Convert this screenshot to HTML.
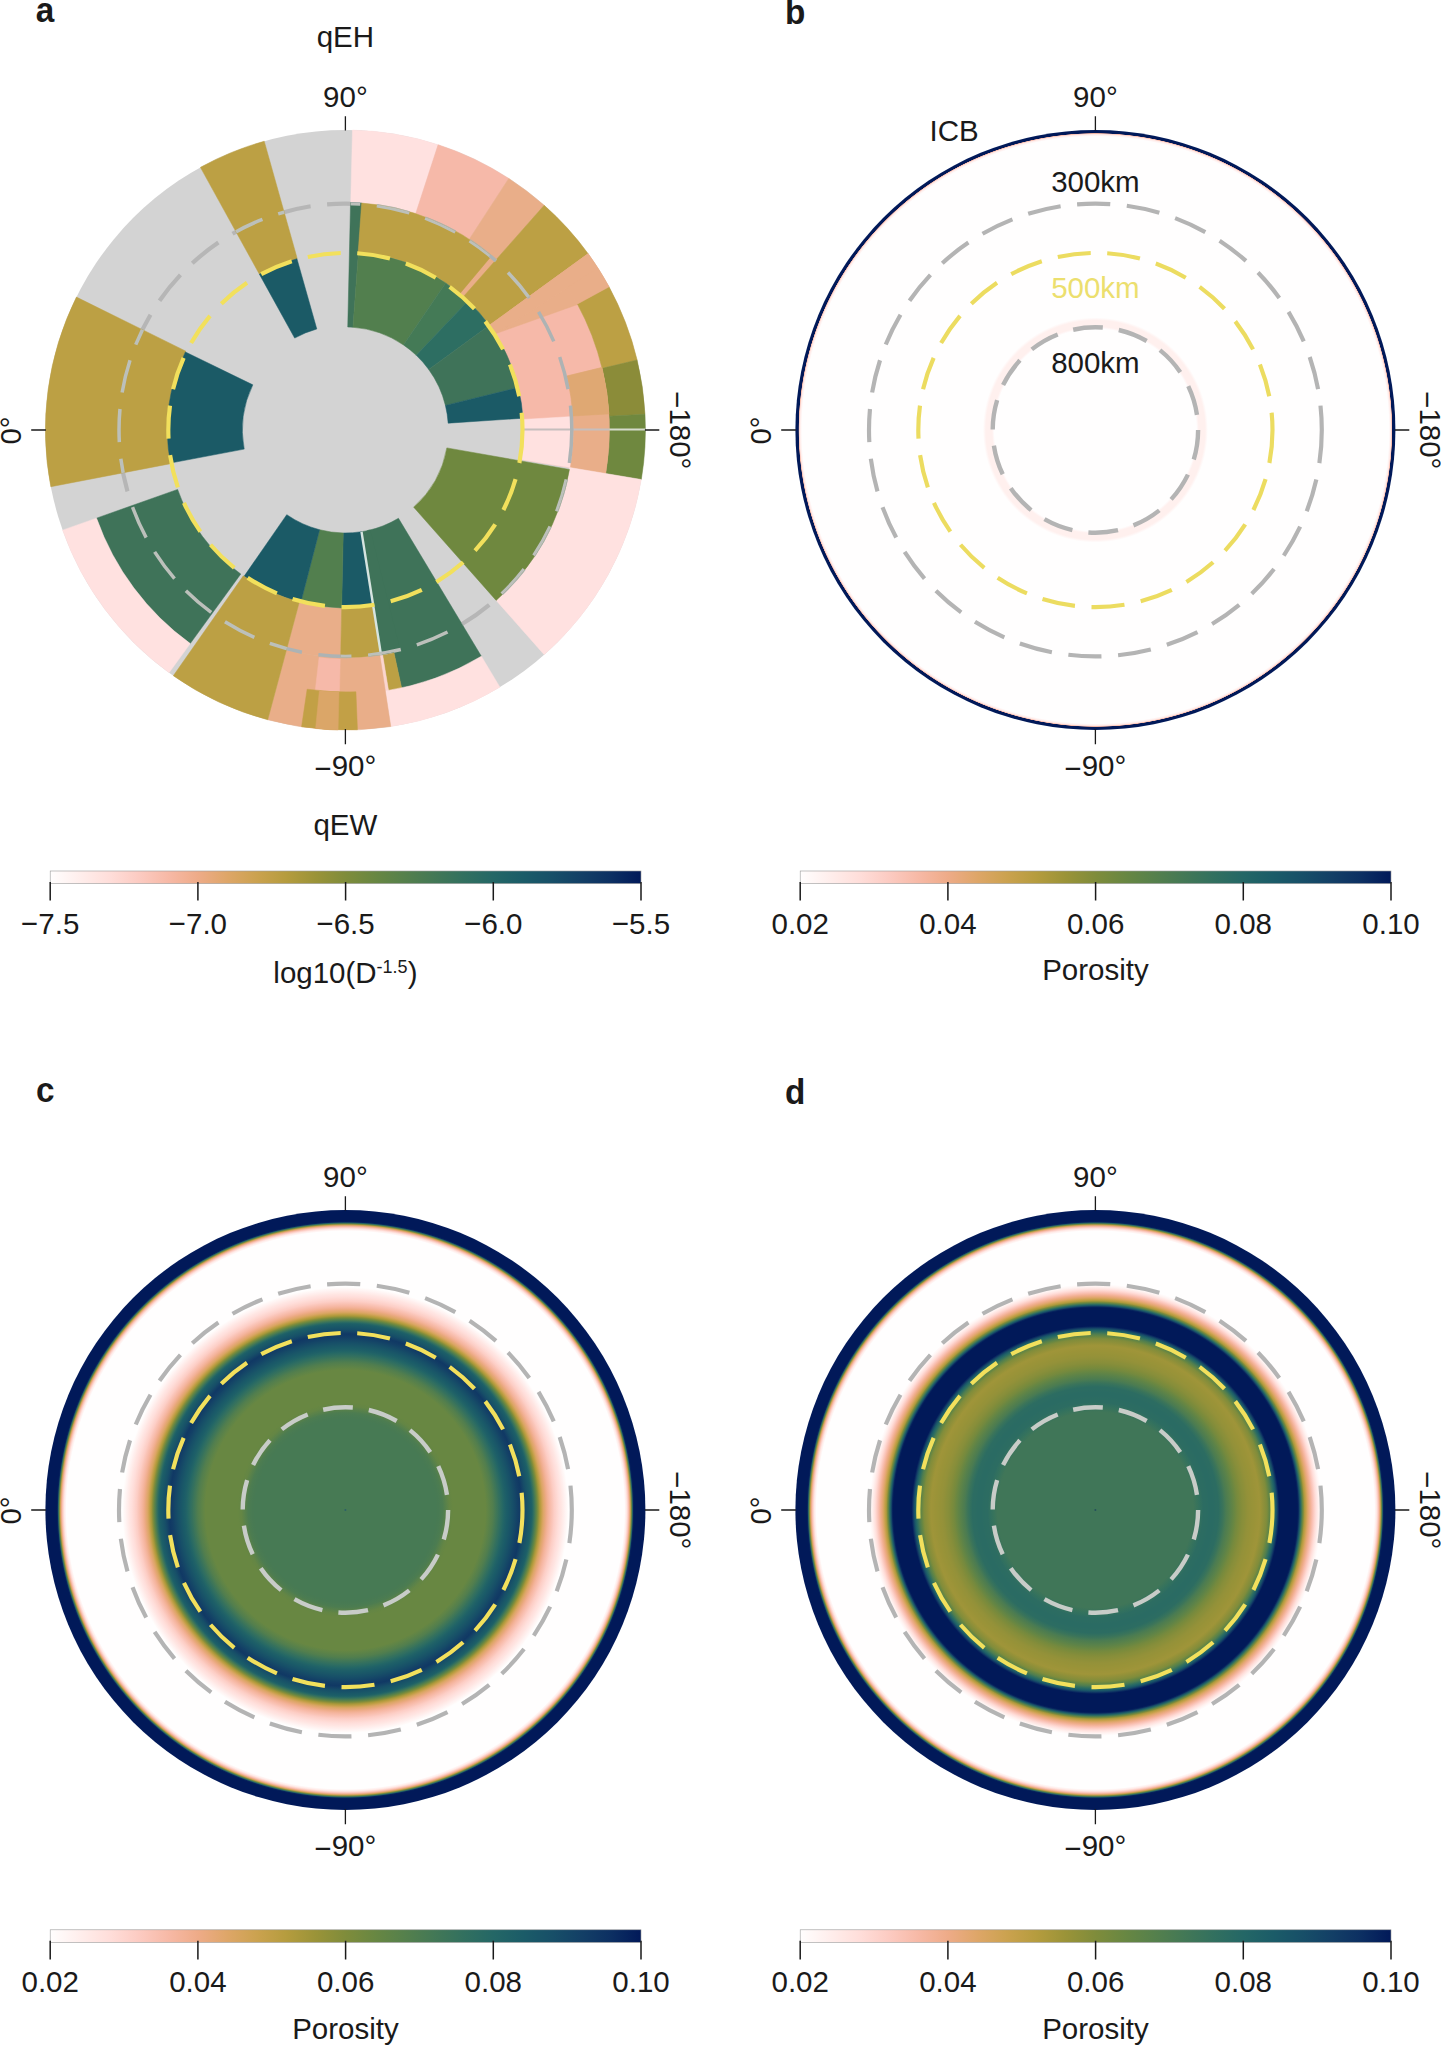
<!DOCTYPE html><html><head><meta charset="utf-8"><title>Figure</title><style>html,body{margin:0;padding:0;background:#fff}svg{display:block}</style></head><body>
<svg width="1441" height="2046" viewBox="0 0 1441 2046" font-family="Liberation Sans, Arial, Helvetica, sans-serif">
<defs>
<linearGradient id="cb" x1="0" x2="1" y1="0" y2="0"><stop offset="0" stop-color="#fffefe"/><stop offset="0.05" stop-color="#ffeeec"/><stop offset="0.1" stop-color="#ffdeda"/><stop offset="0.15" stop-color="#fccbc2"/><stop offset="0.2" stop-color="#f7b9a6"/><stop offset="0.25" stop-color="#eeab88"/><stop offset="0.3" stop-color="#dea668"/><stop offset="0.35" stop-color="#cba24f"/><stop offset="0.4" stop-color="#b59c3e"/><stop offset="0.45" stop-color="#9a9338"/><stop offset="0.5" stop-color="#7f8c3b"/><stop offset="0.55" stop-color="#688742"/><stop offset="0.6" stop-color="#55804c"/><stop offset="0.65" stop-color="#437856"/><stop offset="0.7" stop-color="#32705f"/><stop offset="0.75" stop-color="#246766"/><stop offset="0.8" stop-color="#1b5c68"/><stop offset="0.85" stop-color="#174f68"/><stop offset="0.9" stop-color="#133f66"/><stop offset="0.95" stop-color="#0c2f62"/><stop offset="1" stop-color="#011959"/></linearGradient>
<radialGradient id="gb" gradientUnits="userSpaceOnUse" cx="0" cy="0" r="300"><stop offset="0.0000" stop-color="#fffefe"/><stop offset="0.3367" stop-color="#fffefe"/><stop offset="0.3383" stop-color="#fffbfb"/><stop offset="0.3400" stop-color="#fff8f8"/><stop offset="0.3417" stop-color="#fff5f4"/><stop offset="0.3433" stop-color="#fff2f1"/><stop offset="0.3450" stop-color="#fff0ee"/><stop offset="0.3650" stop-color="#fff0ee"/><stop offset="0.3667" stop-color="#fff2f0"/><stop offset="0.3683" stop-color="#fff4f3"/><stop offset="0.3700" stop-color="#fff7f6"/><stop offset="0.3717" stop-color="#fff9f9"/><stop offset="0.3733" stop-color="#fffcfb"/><stop offset="0.3750" stop-color="#fffefe"/><stop offset="0.9783" stop-color="#fffefe"/><stop offset="0.9800" stop-color="#fff9f9"/><stop offset="0.9817" stop-color="#fff4f3"/><stop offset="0.9833" stop-color="#fff0ee"/><stop offset="0.9850" stop-color="#ffebe8"/><stop offset="0.9867" stop-color="#fdd3cc"/><stop offset="0.9883" stop-color="#f7b9a6"/><stop offset="0.9900" stop-color="#011959"/><stop offset="1.0000" stop-color="#011959"/></radialGradient>
<radialGradient id="gc" gradientUnits="userSpaceOnUse" cx="0" cy="0" r="300"><stop offset="0.0000" stop-color="#477a54"/><stop offset="0.3033" stop-color="#477a54"/><stop offset="0.3067" stop-color="#487a53"/><stop offset="0.3100" stop-color="#487a53"/><stop offset="0.3133" stop-color="#497b53"/><stop offset="0.3167" stop-color="#4a7b52"/><stop offset="0.3200" stop-color="#4b7c51"/><stop offset="0.3233" stop-color="#4c7c51"/><stop offset="0.3267" stop-color="#4f7d4f"/><stop offset="0.3300" stop-color="#537f4d"/><stop offset="0.3333" stop-color="#56804b"/><stop offset="0.3367" stop-color="#5a824a"/><stop offset="0.3400" stop-color="#5d8348"/><stop offset="0.3433" stop-color="#618446"/><stop offset="0.3467" stop-color="#648644"/><stop offset="0.3500" stop-color="#658644"/><stop offset="0.3533" stop-color="#668643"/><stop offset="0.3567" stop-color="#678742"/><stop offset="0.3600" stop-color="#688742"/><stop offset="0.4667" stop-color="#688742"/><stop offset="0.4700" stop-color="#658644"/><stop offset="0.4733" stop-color="#628545"/><stop offset="0.4767" stop-color="#5f8447"/><stop offset="0.4800" stop-color="#5c8348"/><stop offset="0.4833" stop-color="#59814a"/><stop offset="0.4867" stop-color="#56804c"/><stop offset="0.4900" stop-color="#537f4d"/><stop offset="0.4933" stop-color="#4f7d4f"/><stop offset="0.4967" stop-color="#4a7b52"/><stop offset="0.5000" stop-color="#457955"/><stop offset="0.5033" stop-color="#407757"/><stop offset="0.5067" stop-color="#3c755a"/><stop offset="0.5100" stop-color="#37725c"/><stop offset="0.5133" stop-color="#33705f"/><stop offset="0.5167" stop-color="#2f6e61"/><stop offset="0.5200" stop-color="#2b6b63"/><stop offset="0.5233" stop-color="#276964"/><stop offset="0.5267" stop-color="#236666"/><stop offset="0.5300" stop-color="#216367"/><stop offset="0.5333" stop-color="#1f6067"/><stop offset="0.5367" stop-color="#1d5e68"/><stop offset="0.5400" stop-color="#1b5c68"/><stop offset="0.5433" stop-color="#1a5a68"/><stop offset="0.5467" stop-color="#1a5768"/><stop offset="0.5500" stop-color="#195568"/><stop offset="0.5533" stop-color="#185268"/><stop offset="0.5567" stop-color="#175068"/><stop offset="0.5600" stop-color="#164d68"/><stop offset="0.5633" stop-color="#164a67"/><stop offset="0.5667" stop-color="#154767"/><stop offset="0.5700" stop-color="#144467"/><stop offset="0.5733" stop-color="#134166"/><stop offset="0.5767" stop-color="#133e66"/><stop offset="0.5800" stop-color="#123c65"/><stop offset="0.5833" stop-color="#113a65"/><stop offset="0.5867" stop-color="#103964"/><stop offset="0.5900" stop-color="#123d66"/><stop offset="0.5933" stop-color="#144266"/><stop offset="0.5967" stop-color="#154767"/><stop offset="0.6000" stop-color="#164c68"/><stop offset="0.6033" stop-color="#175068"/><stop offset="0.6067" stop-color="#185368"/><stop offset="0.6100" stop-color="#195668"/><stop offset="0.6133" stop-color="#1a5968"/><stop offset="0.6167" stop-color="#1b5c68"/><stop offset="0.6200" stop-color="#1d5f67"/><stop offset="0.6233" stop-color="#236566"/><stop offset="0.6267" stop-color="#2f6e61"/><stop offset="0.6300" stop-color="#3e7559"/><stop offset="0.6333" stop-color="#4e7d50"/><stop offset="0.6367" stop-color="#5f8446"/><stop offset="0.6400" stop-color="#748a3e"/><stop offset="0.6433" stop-color="#8b8f3a"/><stop offset="0.6467" stop-color="#a5973a"/><stop offset="0.6500" stop-color="#b69c3f"/><stop offset="0.6533" stop-color="#c4a04a"/><stop offset="0.6567" stop-color="#d2a358"/><stop offset="0.6600" stop-color="#dca666"/><stop offset="0.6633" stop-color="#e2a771"/><stop offset="0.6667" stop-color="#e8a97c"/><stop offset="0.6700" stop-color="#eeab88"/><stop offset="0.6733" stop-color="#f1b092"/><stop offset="0.6767" stop-color="#f4b49c"/><stop offset="0.6800" stop-color="#f6b8a4"/><stop offset="0.6833" stop-color="#f8bcab"/><stop offset="0.6867" stop-color="#f9c1b2"/><stop offset="0.6900" stop-color="#fac5b9"/><stop offset="0.6933" stop-color="#fccac0"/><stop offset="0.6967" stop-color="#fdcfc7"/><stop offset="0.7000" stop-color="#fdd2cb"/><stop offset="0.7033" stop-color="#fed6d0"/><stop offset="0.7067" stop-color="#fedad4"/><stop offset="0.7100" stop-color="#ffddd9"/><stop offset="0.7133" stop-color="#ffe0dd"/><stop offset="0.7167" stop-color="#ffe3e0"/><stop offset="0.7200" stop-color="#ffe6e3"/><stop offset="0.7233" stop-color="#ffeae7"/><stop offset="0.7267" stop-color="#ffedeb"/><stop offset="0.7300" stop-color="#fff0ef"/><stop offset="0.7333" stop-color="#fff4f3"/><stop offset="0.7367" stop-color="#fff7f6"/><stop offset="0.7400" stop-color="#fffbfa"/><stop offset="0.7433" stop-color="#fffefe"/><stop offset="0.9300" stop-color="#fffefe"/><stop offset="0.9333" stop-color="#fff4f3"/><stop offset="0.9367" stop-color="#ffebe8"/><stop offset="0.9400" stop-color="#fed8d2"/><stop offset="0.9433" stop-color="#fac3b6"/><stop offset="0.9467" stop-color="#efac8a"/><stop offset="0.9500" stop-color="#cea353"/><stop offset="0.9533" stop-color="#7b8b3c"/><stop offset="0.9567" stop-color="#286964"/><stop offset="0.9600" stop-color="#06225d"/><stop offset="0.9633" stop-color="#011959"/><stop offset="1.0000" stop-color="#011959"/></radialGradient>
<radialGradient id="gd" gradientUnits="userSpaceOnUse" cx="0" cy="0" r="300"><stop offset="0.0000" stop-color="#407658"/><stop offset="0.3267" stop-color="#407658"/><stop offset="0.3300" stop-color="#3e7559"/><stop offset="0.3333" stop-color="#3c745a"/><stop offset="0.3367" stop-color="#39745b"/><stop offset="0.3400" stop-color="#37735c"/><stop offset="0.3433" stop-color="#35725d"/><stop offset="0.3467" stop-color="#33715e"/><stop offset="0.3500" stop-color="#31705f"/><stop offset="0.3533" stop-color="#306f60"/><stop offset="0.3567" stop-color="#2e6d61"/><stop offset="0.3600" stop-color="#2c6c62"/><stop offset="0.3667" stop-color="#2c6c62"/><stop offset="0.3700" stop-color="#2b6c62"/><stop offset="0.3733" stop-color="#2b6c62"/><stop offset="0.3767" stop-color="#2b6b63"/><stop offset="0.3800" stop-color="#2a6b63"/><stop offset="0.3933" stop-color="#2a6b63"/><stop offset="0.3967" stop-color="#2b6b63"/><stop offset="0.4000" stop-color="#2b6c62"/><stop offset="0.4033" stop-color="#2c6c62"/><stop offset="0.4100" stop-color="#2c6c62"/><stop offset="0.4133" stop-color="#2f6e60"/><stop offset="0.4167" stop-color="#32705f"/><stop offset="0.4200" stop-color="#35725d"/><stop offset="0.4233" stop-color="#39735b"/><stop offset="0.4267" stop-color="#3d7559"/><stop offset="0.4300" stop-color="#427856"/><stop offset="0.4333" stop-color="#477a54"/><stop offset="0.4367" stop-color="#4c7c51"/><stop offset="0.4400" stop-color="#4f7d4f"/><stop offset="0.4433" stop-color="#527f4d"/><stop offset="0.4467" stop-color="#56804c"/><stop offset="0.4500" stop-color="#59824a"/><stop offset="0.4533" stop-color="#5d8348"/><stop offset="0.4567" stop-color="#618446"/><stop offset="0.4600" stop-color="#658644"/><stop offset="0.4633" stop-color="#698742"/><stop offset="0.4667" stop-color="#6e8840"/><stop offset="0.4700" stop-color="#73893f"/><stop offset="0.4733" stop-color="#778a3d"/><stop offset="0.4767" stop-color="#7a8b3c"/><stop offset="0.4800" stop-color="#7d8c3b"/><stop offset="0.4833" stop-color="#818c3b"/><stop offset="0.4867" stop-color="#848d3a"/><stop offset="0.4900" stop-color="#878e3a"/><stop offset="0.4933" stop-color="#898f3a"/><stop offset="0.4967" stop-color="#8b8f3a"/><stop offset="0.5000" stop-color="#8d9039"/><stop offset="0.5033" stop-color="#909039"/><stop offset="0.5067" stop-color="#929139"/><stop offset="0.5100" stop-color="#949139"/><stop offset="0.5133" stop-color="#959239"/><stop offset="0.5167" stop-color="#969238"/><stop offset="0.5200" stop-color="#979238"/><stop offset="0.5233" stop-color="#989338"/><stop offset="0.5267" stop-color="#999338"/><stop offset="0.5300" stop-color="#9a9338"/><stop offset="0.5333" stop-color="#9b9338"/><stop offset="0.5367" stop-color="#9c9438"/><stop offset="0.5400" stop-color="#9d9439"/><stop offset="0.5433" stop-color="#9e9439"/><stop offset="0.5467" stop-color="#9f9539"/><stop offset="0.5500" stop-color="#9d9439"/><stop offset="0.5533" stop-color="#989338"/><stop offset="0.5567" stop-color="#949139"/><stop offset="0.5600" stop-color="#8f9039"/><stop offset="0.5633" stop-color="#8b8f3a"/><stop offset="0.5667" stop-color="#868e3a"/><stop offset="0.5700" stop-color="#828d3b"/><stop offset="0.5733" stop-color="#7a8b3d"/><stop offset="0.5767" stop-color="#6d8840"/><stop offset="0.5800" stop-color="#628545"/><stop offset="0.5833" stop-color="#58814b"/><stop offset="0.5867" stop-color="#4e7d50"/><stop offset="0.5900" stop-color="#3f7658"/><stop offset="0.5933" stop-color="#31705f"/><stop offset="0.5967" stop-color="#266865"/><stop offset="0.6000" stop-color="#1e6067"/><stop offset="0.6033" stop-color="#185268"/><stop offset="0.6067" stop-color="#133f66"/><stop offset="0.6100" stop-color="#092960"/><stop offset="0.6133" stop-color="#011959"/><stop offset="0.6733" stop-color="#011959"/><stop offset="0.6767" stop-color="#07255e"/><stop offset="0.6800" stop-color="#154667"/><stop offset="0.6833" stop-color="#1f6167"/><stop offset="0.6867" stop-color="#3b745a"/><stop offset="0.6900" stop-color="#5e8347"/><stop offset="0.6933" stop-color="#808c3b"/><stop offset="0.6967" stop-color="#aa983c"/><stop offset="0.7000" stop-color="#bc9e44"/><stop offset="0.7033" stop-color="#cca250"/><stop offset="0.7067" stop-color="#daa563"/><stop offset="0.7100" stop-color="#e4a873"/><stop offset="0.7133" stop-color="#ecaa83"/><stop offset="0.7167" stop-color="#f1b092"/><stop offset="0.7200" stop-color="#f6b7a1"/><stop offset="0.7233" stop-color="#f9bfb0"/><stop offset="0.7267" stop-color="#fbc8be"/><stop offset="0.7300" stop-color="#fdd2ca"/><stop offset="0.7333" stop-color="#ffdbd6"/><stop offset="0.7367" stop-color="#ffe3e0"/><stop offset="0.7400" stop-color="#ffeae7"/><stop offset="0.7433" stop-color="#fff1ef"/><stop offset="0.7467" stop-color="#fff6f5"/><stop offset="0.7500" stop-color="#fffafa"/><stop offset="0.7533" stop-color="#fffefe"/><stop offset="0.9300" stop-color="#fffefe"/><stop offset="0.9333" stop-color="#fff4f3"/><stop offset="0.9367" stop-color="#ffebe8"/><stop offset="0.9400" stop-color="#fed8d2"/><stop offset="0.9433" stop-color="#fac3b6"/><stop offset="0.9467" stop-color="#efac8a"/><stop offset="0.9500" stop-color="#cea353"/><stop offset="0.9533" stop-color="#7b8b3c"/><stop offset="0.9567" stop-color="#286964"/><stop offset="0.9600" stop-color="#06225d"/><stop offset="0.9633" stop-color="#011959"/><stop offset="1.0000" stop-color="#011959"/></radialGradient>
</defs>
<rect width="1441" height="2046" fill="#fff"/>
<g transform="translate(345.4 430)">
<circle r="300" fill="#d3d3d3"/>
<circle r="226.4" fill="none" stroke="#b6b6b6" stroke-width="4.17" stroke-dasharray="33.27 16.64"/>
<path d="M7.07 -299.92A300 300 0 0 1 92.71 -285.32L70.30 -216.37A227.5 227.5 0 0 0 5.36 -227.44Z" fill="#ffe1e0" stroke="#ffe1e0" stroke-width="0.5"/>
<path d="M92.71 -285.32A300 300 0 0 1 163.39 -251.60L123.91 -190.80A227.5 227.5 0 0 0 70.30 -216.37Z" fill="#f6b9a9" stroke="#f6b9a9" stroke-width="0.5"/>
<path d="M163.39 -251.60A300 300 0 0 1 198.79 -224.69L150.75 -170.39A227.5 227.5 0 0 0 123.91 -190.80Z" fill="#e9ae89" stroke="#e9ae89" stroke-width="0.5"/>
<path d="M145.01 -175.29A227.5 227.5 0 0 1 151.04 -170.12L118.18 -133.11A178 178 0 0 0 113.46 -137.15Z" fill="#e9ae89" stroke="#e9ae89" stroke-width="0.5"/>
<path d="M198.79 -224.69A300 300 0 0 1 242.71 -176.34L144.01 -104.63A178 178 0 0 0 117.95 -133.31Z" fill="#bca044" stroke="#bca044" stroke-width="0.5"/>
<path d="M242.71 -176.34A300 300 0 0 1 263.65 -143.15L156.43 -84.93A178 178 0 0 0 144.01 -104.63Z" fill="#e9ae89" stroke="#e9ae89" stroke-width="0.5"/>
<path d="M222.16 -142.62A264 264 0 0 1 260.38 43.57L175.56 29.38A178 178 0 0 0 149.79 -96.16Z" fill="#f6b9a9" stroke="#f6b9a9" stroke-width="0.5"/>
<path d="M149.79 -96.16L222.16 -142.62A264 264 0 0 1 232.23 -125.56Z" fill="#e9ae89" stroke="#e9ae89" stroke-width="0.5"/>
<path d="M263.65 -143.15A300 300 0 0 1 291.71 -70.03L256.71 -61.63A264 264 0 0 0 232.01 -125.97Z" fill="#bca044" stroke="#bca044" stroke-width="0.5"/>
<path d="M291.71 -70.03A300 300 0 0 1 299.59 -15.70L263.64 -13.82A264 264 0 0 0 256.71 -61.63Z" fill="#8b8c39" stroke="#8b8c39" stroke-width="0.5"/>
<path d="M299.59 -15.70A300 300 0 0 1 295.89 49.51L260.38 43.57A264 264 0 0 0 263.64 -13.82Z" fill="#6f883f" stroke="#6f883f" stroke-width="0.5"/>
<path d="M242.71 -176.34A300 300 0 0 1 252.45 -162.07L149.79 -96.16A178 178 0 0 0 144.01 -104.63Z" fill="#e9ae89" stroke="#e9ae89" stroke-width="0.5"/>
<path d="M252.45 -162.07A300 300 0 0 1 263.65 -143.15L232.01 -125.97A264 264 0 0 0 222.16 -142.62Z" fill="#e9ae89" stroke="#e9ae89" stroke-width="0.5"/>
<path d="M256.49 -62.53A264 264 0 0 1 260.38 43.57L224.87 37.63A228 228 0 0 0 221.51 -54.00Z" fill="#e9ae89" stroke="#e9ae89" stroke-width="0.5"/>
<path d="M256.49 -62.53A264 264 0 0 1 263.51 -16.12L227.57 -13.92A228 228 0 0 0 221.51 -54.00Z" fill="#dfa873" stroke="#dfa873" stroke-width="0.5"/>
<path d="M227.10 -13.49A227.5 227.5 0 0 1 224.38 37.55L175.56 29.38A178 178 0 0 0 177.69 -10.56Z" fill="#ffe1e0" stroke="#ffe1e0" stroke-width="0.5"/>
<path d="M5.16 -227.44A227.5 227.5 0 0 1 16.66 -226.89L7.54 -102.72A103 103 0 0 0 2.34 -102.97Z" fill="#3f7359" stroke="#3f7359" stroke-width="0.5"/>
<path d="M16.27 -226.92A227.5 227.5 0 0 1 146.23 -174.28L114.42 -136.36A178 178 0 0 0 12.73 -177.54Z" fill="#bca044" stroke="#bca044" stroke-width="0.5"/>
<path d="M13.04 -177.52A178 178 0 0 1 100.31 -147.05L58.04 -85.09A103 103 0 0 0 7.54 -102.72Z" fill="#527f4e" stroke="#527f4e" stroke-width="0.5"/>
<path d="M100.31 -147.05A178 178 0 0 1 122.53 -129.12L70.90 -74.71A103 103 0 0 0 58.04 -85.09Z" fill="#447a56" stroke="#447a56" stroke-width="0.5"/>
<path d="M122.53 -129.12A178 178 0 0 1 144.01 -104.63L83.33 -60.54A103 103 0 0 0 70.90 -74.71Z" fill="#2d6e62" stroke="#2d6e62" stroke-width="0.5"/>
<path d="M144.01 -104.63A178 178 0 0 1 172.86 -42.46L100.03 -24.57A103 103 0 0 0 83.33 -60.54Z" fill="#3f7359" stroke="#3f7359" stroke-width="0.5"/>
<path d="M172.86 -42.46A178 178 0 0 1 177.61 -11.80L102.77 -6.83A103 103 0 0 0 100.03 -24.57Z" fill="#1b5a66" stroke="#1b5a66" stroke-width="0.5"/>
<path d="M295.89 49.51A300 300 0 0 1 198.79 224.69L150.75 170.39A227.5 227.5 0 0 0 224.38 37.55Z" fill="#ffe1e0" stroke="#ffe1e0" stroke-width="0.5"/>
<path d="M224.04 39.50A227.5 227.5 0 0 1 150.75 170.39L68.25 77.14A103 103 0 0 0 101.44 17.89Z" fill="#6f883f" stroke="#6f883f" stroke-width="0.5"/>
<path d="M135.97 226.29A264 264 0 0 1 56.24 257.94L21.94 100.64A103 103 0 0 0 53.05 88.29Z" fill="#3f7359" stroke="#3f7359" stroke-width="0.5"/>
<path d="M55.04 220.74A227.5 227.5 0 0 1 35.59 224.70L16.11 101.73A103 103 0 0 0 24.92 99.94Z" fill="#3f7359" stroke="#3f7359" stroke-width="0.5"/>
<path d="M56.24 257.94A264 264 0 0 1 43.12 260.46L37.24 224.94A228 228 0 0 0 48.57 222.77Z" fill="#bca044" stroke="#bca044" stroke-width="0.5"/>
<path d="M43.12 260.46A264 264 0 0 1 39.93 260.96L34.49 225.38A228 228 0 0 0 37.24 224.94Z" fill="#fbd5cf" stroke="#fbd5cf" stroke-width="0.5"/>
<path d="M154.51 257.15A300 300 0 0 1 45.38 296.55L39.93 260.96A264 264 0 0 0 135.97 226.29Z" fill="#ffe1e0" stroke="#ffe1e0" stroke-width="0.5"/>
<path d="M45.38 296.55A300 300 0 0 1 -77.65 289.78L-58.88 219.75A227.5 227.5 0 0 0 34.41 224.88Z" fill="#e9ae89" stroke="#e9ae89" stroke-width="0.5"/>
<path d="M-4.76 227.45A227.5 227.5 0 0 1 -58.88 219.75L-46.07 171.93A178 178 0 0 0 -3.73 177.96Z" fill="#e9ae89" stroke="#e9ae89" stroke-width="0.5"/>
<path d="M35.59 224.70A227.5 227.5 0 0 1 -4.76 227.45L-3.73 177.96A178 178 0 0 0 27.85 175.81Z" fill="#bca044" stroke="#bca044" stroke-width="0.5"/>
<path d="M27.85 175.81A178 178 0 0 1 -3.73 177.96L-2.16 102.98A103 103 0 0 0 16.11 101.73Z" fill="#1b5a66" stroke="#1b5a66" stroke-width="0.5"/>
<path d="M-3.73 177.96A178 178 0 0 1 -44.57 172.33L-25.79 99.72A103 103 0 0 0 -2.16 102.98Z" fill="#527f4e" stroke="#527f4e" stroke-width="0.5"/>
<path d="M-5.94 261.93A262 262 0 0 1 -30.11 260.26L-26.32 227.48A229 229 0 0 0 -5.20 228.94Z" fill="#f6b9a9" stroke="#f6b9a9" stroke-width="0.5"/>
<path d="M12.04 299.76A300 300 0 0 1 -43.82 296.78L-38.27 259.19A262 262 0 0 0 10.51 261.79Z" fill="#c2a046" stroke="#c2a046" stroke-width="0.5"/>
<path d="M-7.33 299.91A300 300 0 0 1 -29.80 298.52L-26.02 260.70A262 262 0 0 0 -6.40 261.92Z" fill="#dba668" stroke="#dba668" stroke-width="0.5"/>
<path d="M-44.57 172.33A178 178 0 0 1 -101.33 146.34L-58.64 84.68A103 103 0 0 0 -25.79 99.72Z" fill="#1b5a66" stroke="#1b5a66" stroke-width="0.5"/>
<path d="M-77.65 289.78A300 300 0 0 1 -172.07 245.75L-102.10 145.81A178 178 0 0 0 -46.07 171.93Z" fill="#bca044" stroke="#bca044" stroke-width="0.5"/>
<path d="M-155.18 213.58A264 264 0 0 1 -248.86 88.13L-167.79 59.42A178 178 0 0 0 -104.63 144.01Z" fill="#3f7359" stroke="#3f7359" stroke-width="0.5"/>
<path d="M-176.34 242.71A300 300 0 0 1 -282.79 100.14L-248.86 88.13A264 264 0 0 0 -155.18 213.58Z" fill="#ffe1e0" stroke="#ffe1e0" stroke-width="0.5"/>
<path d="M-294.59 56.73A300 300 0 0 1 -268.95 -132.92L-159.57 -78.87A178 178 0 0 0 -174.79 33.66Z" fill="#bca044" stroke="#bca044" stroke-width="0.5"/>
<path d="M-174.91 33.05A178 178 0 0 1 -159.99 -78.03L-92.58 -45.15A103 103 0 0 0 -101.21 19.12Z" fill="#1b5a66" stroke="#1b5a66" stroke-width="0.5"/>
<path d="M-144.98 -262.64A300 300 0 0 1 -81.18 -288.81L-48.17 -171.36A178 178 0 0 0 -86.02 -155.83Z" fill="#bca044" stroke="#bca044" stroke-width="0.5"/>
<path d="M-86.02 -155.83A178 178 0 0 1 -48.47 -171.27L-28.59 -101.03A105 105 0 0 0 -50.74 -91.92Z" fill="#1b5a66" stroke="#1b5a66" stroke-width="0.5"/>
<path d="M16.1 101.7L35.6 224.7" stroke="#d6e4e0" stroke-width="2.4"/>
<path d="M178.0 -0.4H264.0" stroke="#c6bebd" stroke-width="2"/>
<path d="M264.0 -0.4H300.0" stroke="#d6dccd" stroke-width="2"/>
<clipPath id="wc"><path d="M198.79 -224.69A300 300 0 0 1 242.71 -176.34L144.01 -104.63A178 178 0 0 0 117.95 -133.31ZM263.65 -143.15A300 300 0 0 1 291.71 -70.03L256.71 -61.63A264 264 0 0 0 232.01 -125.97ZM291.71 -70.03A300 300 0 0 1 299.59 -15.70L263.64 -13.82A264 264 0 0 0 256.71 -61.63ZM299.59 -15.70A300 300 0 0 1 295.89 49.51L260.38 43.57A264 264 0 0 0 263.64 -13.82ZM5.16 -227.44A227.5 227.5 0 0 1 16.66 -226.89L7.54 -102.72A103 103 0 0 0 2.34 -102.97ZM16.27 -226.92A227.5 227.5 0 0 1 146.23 -174.28L114.42 -136.36A178 178 0 0 0 12.73 -177.54ZM13.04 -177.52A178 178 0 0 1 100.31 -147.05L58.04 -85.09A103 103 0 0 0 7.54 -102.72ZM100.31 -147.05A178 178 0 0 1 122.53 -129.12L70.90 -74.71A103 103 0 0 0 58.04 -85.09ZM122.53 -129.12A178 178 0 0 1 144.01 -104.63L83.33 -60.54A103 103 0 0 0 70.90 -74.71ZM144.01 -104.63A178 178 0 0 1 172.86 -42.46L100.03 -24.57A103 103 0 0 0 83.33 -60.54ZM172.86 -42.46A178 178 0 0 1 177.61 -11.80L102.77 -6.83A103 103 0 0 0 100.03 -24.57ZM224.04 39.50A227.5 227.5 0 0 1 150.75 170.39L68.25 77.14A103 103 0 0 0 101.44 17.89ZM135.97 226.29A264 264 0 0 1 56.24 257.94L21.94 100.64A103 103 0 0 0 53.05 88.29ZM55.04 220.74A227.5 227.5 0 0 1 35.59 224.70L16.11 101.73A103 103 0 0 0 24.92 99.94ZM56.24 257.94A264 264 0 0 1 43.12 260.46L37.24 224.94A228 228 0 0 0 48.57 222.77ZM35.59 224.70A227.5 227.5 0 0 1 -4.76 227.45L-3.73 177.96A178 178 0 0 0 27.85 175.81ZM27.85 175.81A178 178 0 0 1 -3.73 177.96L-2.16 102.98A103 103 0 0 0 16.11 101.73ZM-3.73 177.96A178 178 0 0 1 -44.57 172.33L-25.79 99.72A103 103 0 0 0 -2.16 102.98ZM12.04 299.76A300 300 0 0 1 -43.82 296.78L-38.27 259.19A262 262 0 0 0 10.51 261.79ZM-7.33 299.91A300 300 0 0 1 -29.80 298.52L-26.02 260.70A262 262 0 0 0 -6.40 261.92ZM-44.57 172.33A178 178 0 0 1 -101.33 146.34L-58.64 84.68A103 103 0 0 0 -25.79 99.72ZM-77.65 289.78A300 300 0 0 1 -172.07 245.75L-102.10 145.81A178 178 0 0 0 -46.07 171.93ZM-155.18 213.58A264 264 0 0 1 -248.86 88.13L-167.79 59.42A178 178 0 0 0 -104.63 144.01ZM-294.59 56.73A300 300 0 0 1 -268.95 -132.92L-159.57 -78.87A178 178 0 0 0 -174.79 33.66ZM-174.91 33.05A178 178 0 0 1 -159.99 -78.03L-92.58 -45.15A103 103 0 0 0 -101.21 19.12ZM-144.98 -262.64A300 300 0 0 1 -81.18 -288.81L-48.17 -171.36A178 178 0 0 0 -86.02 -155.83ZM-86.02 -155.83A178 178 0 0 1 -48.47 -171.27L-28.59 -101.03A105 105 0 0 0 -50.74 -91.92Z"/></clipPath>
<g clip-path="url(#wc)"><circle r="226.4" fill="none" stroke="#bcc0bb" stroke-width="3.5" stroke-dasharray="33.27 16.64"/></g>
<clipPath id="wl"><path d="M7.07 -299.92A300 300 0 0 1 92.71 -285.32L70.30 -216.37A227.5 227.5 0 0 0 5.36 -227.44ZM92.71 -285.32A300 300 0 0 1 163.39 -251.60L123.91 -190.80A227.5 227.5 0 0 0 70.30 -216.37ZM163.39 -251.60A300 300 0 0 1 198.79 -224.69L150.75 -170.39A227.5 227.5 0 0 0 123.91 -190.80ZM145.01 -175.29A227.5 227.5 0 0 1 151.04 -170.12L118.18 -133.11A178 178 0 0 0 113.46 -137.15ZM242.71 -176.34A300 300 0 0 1 263.65 -143.15L156.43 -84.93A178 178 0 0 0 144.01 -104.63ZM222.16 -142.62A264 264 0 0 1 260.38 43.57L175.56 29.38A178 178 0 0 0 149.79 -96.16ZM149.79 -96.16L222.16 -142.62A264 264 0 0 1 232.23 -125.56ZM242.71 -176.34A300 300 0 0 1 252.45 -162.07L149.79 -96.16A178 178 0 0 0 144.01 -104.63ZM252.45 -162.07A300 300 0 0 1 263.65 -143.15L232.01 -125.97A264 264 0 0 0 222.16 -142.62ZM256.49 -62.53A264 264 0 0 1 260.38 43.57L224.87 37.63A228 228 0 0 0 221.51 -54.00ZM256.49 -62.53A264 264 0 0 1 263.51 -16.12L227.57 -13.92A228 228 0 0 0 221.51 -54.00ZM227.10 -13.49A227.5 227.5 0 0 1 224.38 37.55L175.56 29.38A178 178 0 0 0 177.69 -10.56ZM295.89 49.51A300 300 0 0 1 198.79 224.69L150.75 170.39A227.5 227.5 0 0 0 224.38 37.55ZM43.12 260.46A264 264 0 0 1 39.93 260.96L34.49 225.38A228 228 0 0 0 37.24 224.94ZM154.51 257.15A300 300 0 0 1 45.38 296.55L39.93 260.96A264 264 0 0 0 135.97 226.29ZM45.38 296.55A300 300 0 0 1 -77.65 289.78L-58.88 219.75A227.5 227.5 0 0 0 34.41 224.88ZM-4.76 227.45A227.5 227.5 0 0 1 -58.88 219.75L-46.07 171.93A178 178 0 0 0 -3.73 177.96ZM-5.94 261.93A262 262 0 0 1 -30.11 260.26L-26.32 227.48A229 229 0 0 0 -5.20 228.94ZM-176.34 242.71A300 300 0 0 1 -282.79 100.14L-248.86 88.13A264 264 0 0 0 -155.18 213.58Z"/></clipPath>
<g clip-path="url(#wl)"><circle r="226.4" fill="none" stroke="#adb3b4" stroke-width="3.5" stroke-dasharray="33.27 16.64"/></g>
<circle r="177.1" fill="none" stroke="#f2e05c" stroke-width="4.17" stroke-dasharray="33.18 16.59"/>
<path d="M0 -299.5V-313.8M0 299V314.3M-299.5 0H-314.2M299.5 0H313.9" stroke="#1a1a1a" stroke-width="1.3" fill="none"/><text transform="translate(0.00 -323.40) scale(1 1.03)" font-size="29.5" text-anchor="middle" fill="#1a1a1a">90°</text><text transform="translate(0.00 345.80) scale(1 1.03)" font-size="29.5" text-anchor="middle" fill="#1a1a1a"><tspan dy="2.8">−</tspan><tspan dy="-2.8">90°</tspan></text><text transform="translate(-324.20 0.50) rotate(-90) scale(1 1.03)" font-size="29.5" text-anchor="middle" fill="#1a1a1a">0°</text><text transform="translate(324.60 0.30) rotate(90) scale(1 1.03)" font-size="29.5" text-anchor="middle" fill="#1a1a1a"><tspan dy="2.8">−</tspan><tspan dy="-2.8">180°</tspan></text>
</g>
<g transform="translate(1095.4 430)">
<circle r="300" fill="url(#gb)"/>
<circle r="226.4" fill="none" stroke="#b4b4b4" stroke-width="4.17" stroke-dasharray="33.27 16.64"/>
<circle r="177.1" fill="none" stroke="#ecdc60" stroke-width="4.17" stroke-dasharray="33.18 16.59"/>
<circle r="102.7" fill="none" stroke="#b4b4b4" stroke-width="4.4" stroke-dasharray="30 16.09"/>
<path d="M0 -299.5V-313.8M0 299V314.3M-299.5 0H-314.2M299.5 0H313.9" stroke="#1a1a1a" stroke-width="1.3" fill="none"/><text transform="translate(0.00 -323.40) scale(1 1.03)" font-size="29.5" text-anchor="middle" fill="#1a1a1a">90°</text><text transform="translate(0.00 345.80) scale(1 1.03)" font-size="29.5" text-anchor="middle" fill="#1a1a1a"><tspan dy="2.8">−</tspan><tspan dy="-2.8">90°</tspan></text><text transform="translate(-324.20 0.50) rotate(-90) scale(1 1.03)" font-size="29.5" text-anchor="middle" fill="#1a1a1a">0°</text><text transform="translate(324.60 0.30) rotate(90) scale(1 1.03)" font-size="29.5" text-anchor="middle" fill="#1a1a1a"><tspan dy="2.8">−</tspan><tspan dy="-2.8">180°</tspan></text>
<text transform="translate(0.00 -238.30) scale(1 1.03)" font-size="29.5" text-anchor="middle" fill="#1a1a1a">300km</text>
<text transform="translate(0.00 -131.70) scale(1 1.03)" font-size="29.5" text-anchor="middle" fill="#ecdf6e">500km</text>
<text transform="translate(0.00 -57.30) scale(1 1.03)" font-size="29.5" text-anchor="middle" fill="#1a1a1a">800km</text>
<text transform="translate(-116.80 -289.00) scale(1 1.03)" font-size="29.5" text-anchor="end" fill="#1a1a1a">ICB</text>
</g>
<g transform="translate(345.4 1510)">
<circle r="300" fill="url(#gc)"/>
<circle r="1" fill="#2c5f68"/>
<circle r="226.4" fill="none" stroke="#b4b4b4" stroke-width="4.17" stroke-dasharray="33.27 16.64"/>
<circle r="177.1" fill="none" stroke="#f2e05c" stroke-width="4.17" stroke-dasharray="33.18 16.59"/>
<circle r="102.7" fill="none" stroke="#c8ccc8" stroke-width="4.4" stroke-dasharray="30 16.09"/>
<path d="M0 -299.5V-313.8M0 299V314.3M-299.5 0H-314.2M299.5 0H313.9" stroke="#1a1a1a" stroke-width="1.3" fill="none"/><text transform="translate(0.00 -323.40) scale(1 1.03)" font-size="29.5" text-anchor="middle" fill="#1a1a1a">90°</text><text transform="translate(0.00 345.80) scale(1 1.03)" font-size="29.5" text-anchor="middle" fill="#1a1a1a"><tspan dy="2.8">−</tspan><tspan dy="-2.8">90°</tspan></text><text transform="translate(-324.20 0.50) rotate(-90) scale(1 1.03)" font-size="29.5" text-anchor="middle" fill="#1a1a1a">0°</text><text transform="translate(324.60 0.30) rotate(90) scale(1 1.03)" font-size="29.5" text-anchor="middle" fill="#1a1a1a"><tspan dy="2.8">−</tspan><tspan dy="-2.8">180°</tspan></text>
</g>
<g transform="translate(1095.4 1510)">
<circle r="300" fill="url(#gd)"/>
<circle r="1" fill="#24505c"/>
<circle r="226.4" fill="none" stroke="#b4b4b4" stroke-width="4.17" stroke-dasharray="33.27 16.64"/>
<circle r="177.1" fill="none" stroke="#f2e05c" stroke-width="4.17" stroke-dasharray="33.18 16.59"/>
<circle r="102.7" fill="none" stroke="#c8ccc8" stroke-width="4.4" stroke-dasharray="30 16.09"/>
<path d="M0 -299.5V-313.8M0 299V314.3M-299.5 0H-314.2M299.5 0H313.9" stroke="#1a1a1a" stroke-width="1.3" fill="none"/><text transform="translate(0.00 -323.40) scale(1 1.03)" font-size="29.5" text-anchor="middle" fill="#1a1a1a">90°</text><text transform="translate(0.00 345.80) scale(1 1.03)" font-size="29.5" text-anchor="middle" fill="#1a1a1a"><tspan dy="2.8">−</tspan><tspan dy="-2.8">90°</tspan></text><text transform="translate(-324.20 0.50) rotate(-90) scale(1 1.03)" font-size="29.5" text-anchor="middle" fill="#1a1a1a">0°</text><text transform="translate(324.60 0.30) rotate(90) scale(1 1.03)" font-size="29.5" text-anchor="middle" fill="#1a1a1a"><tspan dy="2.8">−</tspan><tspan dy="-2.8">180°</tspan></text>
</g>
<text transform="translate(35.70 21.50) scale(1 1.03)" font-size="33.3" text-anchor="start" fill="#1a1a1a" font-weight="bold">a</text>
<text transform="translate(785.10 24.30) scale(1 1.03)" font-size="33.3" text-anchor="start" fill="#1a1a1a" font-weight="bold">b</text>
<text transform="translate(36.00 1101.70) scale(1 1.03)" font-size="33.3" text-anchor="start" fill="#1a1a1a" font-weight="bold">c</text>
<text transform="translate(785.10 1104.20) scale(1 1.03)" font-size="33.3" text-anchor="start" fill="#1a1a1a" font-weight="bold">d</text>
<text transform="translate(345.40 46.80) scale(1 1.03)" font-size="29.5" text-anchor="middle" fill="#1a1a1a">qEH</text>
<text transform="translate(345.40 834.90) scale(1 1.03)" font-size="29.5" text-anchor="middle" fill="#1a1a1a">qEW</text>
<rect x="50.2" y="871.0" width="590.8" height="12.6" fill="url(#cb)" stroke="#9a9a9a" stroke-width="0.6"/><text transform="translate(50.20 934.00) scale(1 1.03)" font-size="29.5" text-anchor="middle" fill="#1a1a1a">−7.5</text><text transform="translate(197.90 934.00) scale(1 1.03)" font-size="29.5" text-anchor="middle" fill="#1a1a1a">−7.0</text><text transform="translate(345.60 934.00) scale(1 1.03)" font-size="29.5" text-anchor="middle" fill="#1a1a1a">−6.5</text><text transform="translate(493.30 934.00) scale(1 1.03)" font-size="29.5" text-anchor="middle" fill="#1a1a1a">−6.0</text><text transform="translate(641.00 934.00) scale(1 1.03)" font-size="29.5" text-anchor="middle" fill="#1a1a1a">−5.5</text><path d="M50.20 882.0V900.6M197.90 882.0V900.6M345.60 882.0V900.6M493.30 882.0V900.6M641.00 882.0V900.6" stroke="#1a1a1a" stroke-width="1.5" fill="none"/><text transform="translate(345.40 983.30) scale(1 1.03)" font-size="29.5" text-anchor="middle" fill="#1a1a1a">log10(D<tspan dy="-9.8" font-size="18">-1.5</tspan><tspan dy="9.8">)</tspan></text>
<rect x="800.2" y="871.0" width="590.8" height="12.6" fill="url(#cb)" stroke="#9a9a9a" stroke-width="0.6"/><text transform="translate(800.20 934.00) scale(1 1.03)" font-size="29.5" text-anchor="middle" fill="#1a1a1a">0.02</text><text transform="translate(947.90 934.00) scale(1 1.03)" font-size="29.5" text-anchor="middle" fill="#1a1a1a">0.04</text><text transform="translate(1095.60 934.00) scale(1 1.03)" font-size="29.5" text-anchor="middle" fill="#1a1a1a">0.06</text><text transform="translate(1243.30 934.00) scale(1 1.03)" font-size="29.5" text-anchor="middle" fill="#1a1a1a">0.08</text><text transform="translate(1391.00 934.00) scale(1 1.03)" font-size="29.5" text-anchor="middle" fill="#1a1a1a">0.10</text><path d="M800.20 882.0V900.6M947.90 882.0V900.6M1095.60 882.0V900.6M1243.30 882.0V900.6M1391.00 882.0V900.6" stroke="#1a1a1a" stroke-width="1.5" fill="none"/><text transform="translate(1095.40 980.30) scale(1 1.03)" font-size="29.5" text-anchor="middle" fill="#1a1a1a">Porosity</text>
<rect x="50.2" y="1929.8" width="590.8" height="12.6" fill="url(#cb)" stroke="#9a9a9a" stroke-width="0.6"/><text transform="translate(50.20 1992.30) scale(1 1.03)" font-size="29.5" text-anchor="middle" fill="#1a1a1a">0.02</text><text transform="translate(197.90 1992.30) scale(1 1.03)" font-size="29.5" text-anchor="middle" fill="#1a1a1a">0.04</text><text transform="translate(345.60 1992.30) scale(1 1.03)" font-size="29.5" text-anchor="middle" fill="#1a1a1a">0.06</text><text transform="translate(493.30 1992.30) scale(1 1.03)" font-size="29.5" text-anchor="middle" fill="#1a1a1a">0.08</text><text transform="translate(641.00 1992.30) scale(1 1.03)" font-size="29.5" text-anchor="middle" fill="#1a1a1a">0.10</text><path d="M50.20 1940.8V1959.4M197.90 1940.8V1959.4M345.60 1940.8V1959.4M493.30 1940.8V1959.4M641.00 1940.8V1959.4" stroke="#1a1a1a" stroke-width="1.5" fill="none"/><text transform="translate(345.40 2038.80) scale(1 1.03)" font-size="29.5" text-anchor="middle" fill="#1a1a1a">Porosity</text>
<rect x="800.2" y="1929.8" width="590.8" height="12.6" fill="url(#cb)" stroke="#9a9a9a" stroke-width="0.6"/><text transform="translate(800.20 1992.30) scale(1 1.03)" font-size="29.5" text-anchor="middle" fill="#1a1a1a">0.02</text><text transform="translate(947.90 1992.30) scale(1 1.03)" font-size="29.5" text-anchor="middle" fill="#1a1a1a">0.04</text><text transform="translate(1095.60 1992.30) scale(1 1.03)" font-size="29.5" text-anchor="middle" fill="#1a1a1a">0.06</text><text transform="translate(1243.30 1992.30) scale(1 1.03)" font-size="29.5" text-anchor="middle" fill="#1a1a1a">0.08</text><text transform="translate(1391.00 1992.30) scale(1 1.03)" font-size="29.5" text-anchor="middle" fill="#1a1a1a">0.10</text><path d="M800.20 1940.8V1959.4M947.90 1940.8V1959.4M1095.60 1940.8V1959.4M1243.30 1940.8V1959.4M1391.00 1940.8V1959.4" stroke="#1a1a1a" stroke-width="1.5" fill="none"/><text transform="translate(1095.40 2038.80) scale(1 1.03)" font-size="29.5" text-anchor="middle" fill="#1a1a1a">Porosity</text>
</svg></body></html>
